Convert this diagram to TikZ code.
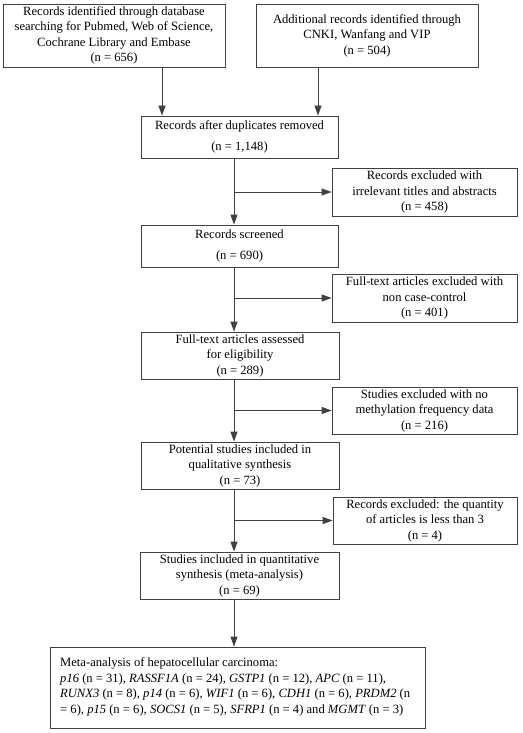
\documentclass[tikz,border=0pt]{standalone}
\usepackage{fontspec}
\setmainfont{Liberation Serif}
\usetikzlibrary{arrows.meta}
\begin{document}
\begin{tikzpicture}[x=1pt,y=-1pt,
  box/.style={draw=black!75, line width=0.8pt, inner sep=0pt, align=center,
    font=\fontsize{12.6}{15.5}\selectfont},
  arr/.style={draw=black!75, line width=0.8pt, -{Triangle[length=10pt,width=7pt]}},
]
\useasboundingbox (0,0) rectangle (522,733);
\node[box, minimum width=222pt, minimum height=63pt] (b1) at (114,35.5)
  {Records identified through database\\searching for Pubmed, Web of Science,\\Cochrane Library and Embase\\(n = 656)};
\node[box, minimum width=222pt, minimum height=63pt] (b2) at (367,35.5)
  {Additional records identified through\\CNKI, Wanfang and VIP\\(n = 504)};
\node[box, minimum width=197pt, minimum height=42pt] (b3) at (239.5,137)
  {Records after duplicates removed\\[5pt](n = 1,148)};
\node[box, minimum width=185pt, minimum height=48pt] (e1) at (424.5,192)
  {Records excluded with\\irrelevant titles and abstracts\\(n = 458)};
\node[box, minimum width=197pt, minimum height=42pt] (b4) at (239.5,246)
  {Records screened\\[5pt](n = 690)};
\node[box, minimum width=185pt, minimum height=48pt] (e2) at (424.5,298)
  {Full-text articles excluded with\\non case-control\\(n = 401)};
\node[box, minimum width=198pt, minimum height=47pt] (b5) at (240,355.5)
  {Full-text articles assessed\\for eligibility\\(n = 289)};
\node[box, minimum width=185pt, minimum height=47pt] (e3) at (424.5,410.5)
  {Studies excluded with no\\methylation frequency data\\(n = 216)};
\node[box, minimum width=198pt, minimum height=47pt] (b6) at (240,465.5)
  {Potential studies included in\\qualitative synthesis\\(n = 73)};
\node[box, minimum width=184pt, minimum height=47pt] (e4) at (425,520.5)
  {Records excluded: the quantity\\of articles is less than 3\\(n = 4)};
\node[box, minimum width=199pt, minimum height=47pt] (b7) at (239.5,575.5)
  {Studies included in quantitative\\synthesis (meta-analysis)\\(n = 69)};
\node[box, minimum width=375pt, minimum height=81pt] (b8) at (237.5,687.5) {};
\node[anchor=west, inner sep=0pt, align=left, font=\fontsize{12.6}{15.5}\selectfont] (t8) at (60,687)
  {Meta-analysis of hepatocellular carcinoma:\\
  \textit{p16} (n = 31), \textit{RASSF1A} (n = 24), \textit{GSTP1} (n = 12), \textit{APC} (n = 11),\\
  \textit{RUNX3} (n = 8), \textit{p14} (n = 6), \textit{WIF1} (n = 6), \textit{CDH1} (n = 6), \textit{PRDM2} (n\\
  = 6), \textit{p15} (n = 6), \textit{SOCS1} (n = 5), \textit{SFRP1} (n = 4) and \textit{MGMT} (n = 3)};
\coordinate (cl) at (162,0);
\coordinate (cr) at (318,0);
\coordinate (m) at (234,0);
\draw[arr] (b1.south -| cl) -- (b3.north -| cl);
\draw[arr] (b2.south -| cr) -- (b3.north -| cr);
\draw[arr] (b3.south -| m) -- (b4.north -| m);
\draw[arr] (b4.south -| m) -- (b5.north -| m);
\draw[arr] (b5.south -| m) -- (b6.north -| m);
\draw[arr] (b6.south -| m) -- (b7.north -| m);
\draw[arr] (b7.south -| m) -- (b8.north -| m);
\draw[arr] (e1.west -| m) -- (e1.west);
\draw[arr] (e2.west -| m) -- (e2.west);
\draw[arr] (e3.west -| m) -- (e3.west);
\draw[arr] (e4.west -| m) -- (e4.west);
\end{tikzpicture}
\end{document}
